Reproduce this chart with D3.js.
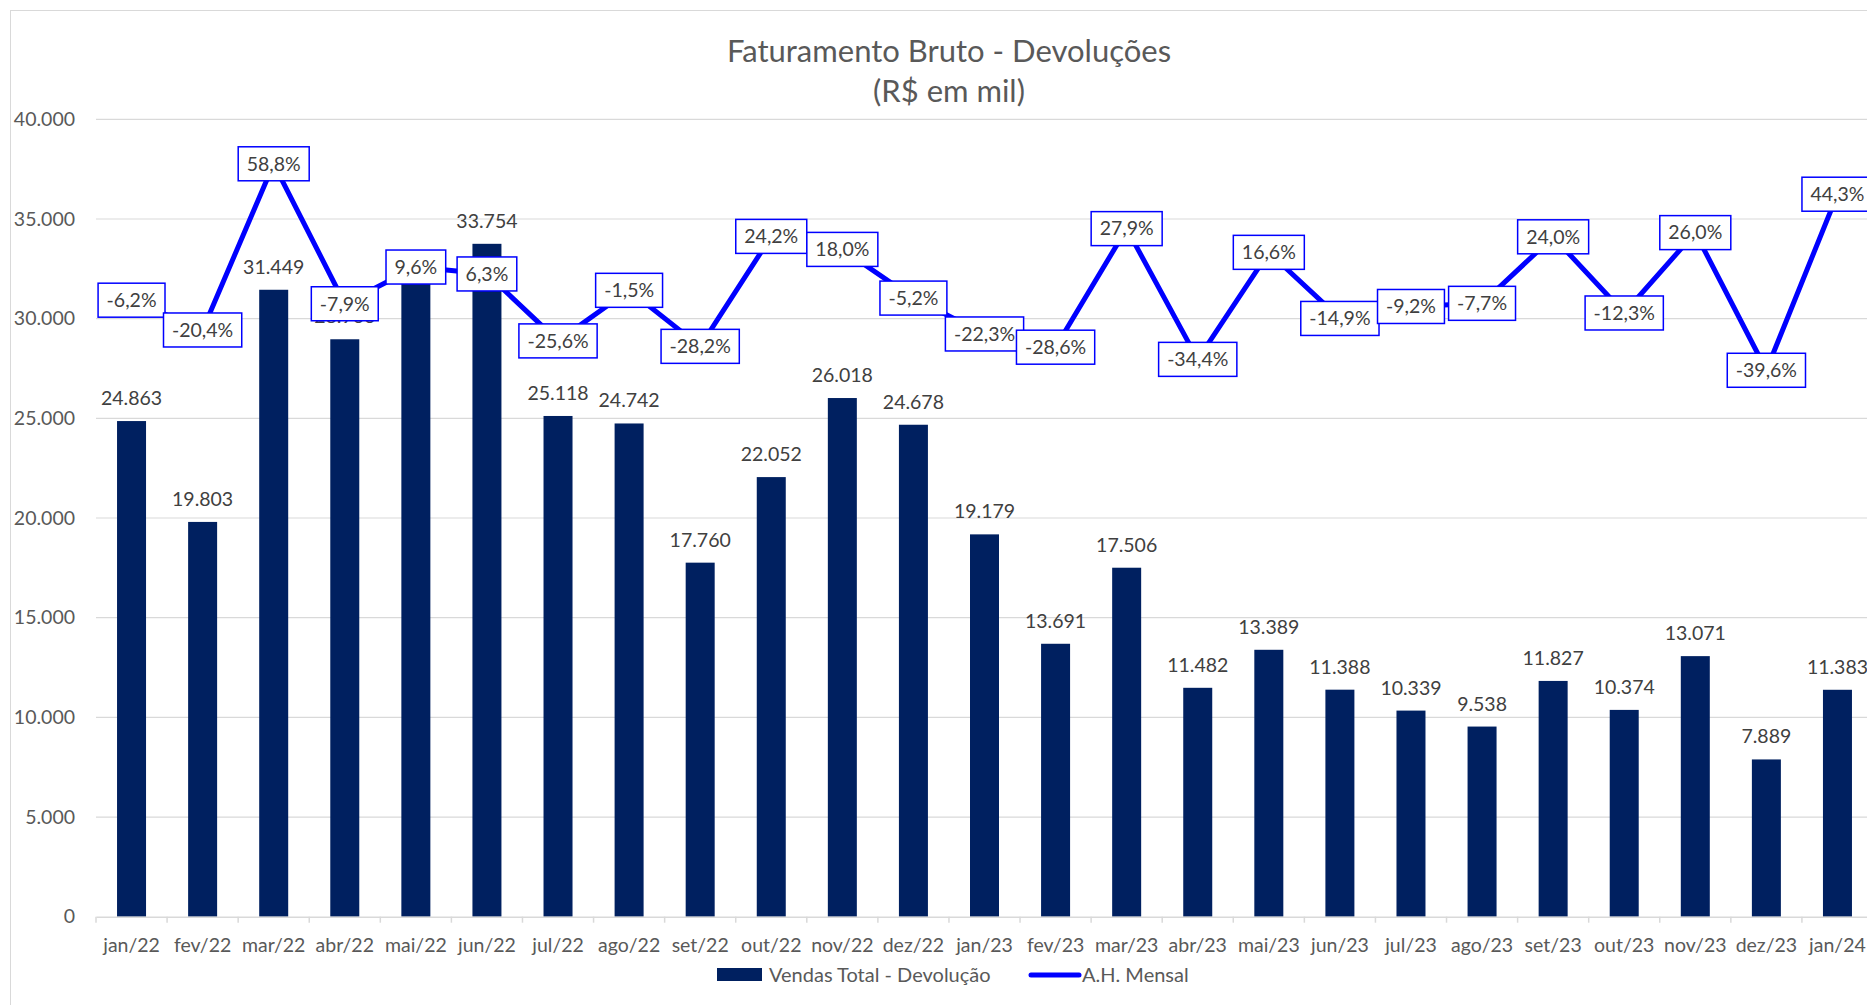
<!DOCTYPE html>
<html>
<head>
<meta charset="utf-8">
<script src="https://cdn.jsdelivr.net/npm/d3@7"></script>
<style>
  body { margin: 0; background: #fff; }
  text { font-family: Lato, "Open Sans", sans-serif; }
</style>
</head>
<body>
<script>
// categories and series
const meses = ["jan/22", "fev/22", "mar/22", "abr/22", "mai/22", "jun/22", "jul/22", "ago/22",
  "set/22", "out/22", "nov/22", "dez/22", "jan/23", "fev/23", "mar/23", "abr/23", "mai/23",
  "jun/23", "jul/23", "ago/23", "set/23", "out/23", "nov/23", "dez/23", "jan/24"];

const vendas = [24863, 19803, 31449, 28966, 31752, 33754, 25118, 24742, 17760, 22052, 26018, 24678,
  19179, 13691, 17506, 11482, 13389, 11388, 10339, 9538, 11827, 10374, 13071, 7889, 11383];

const ahMensal = [-0.062, -0.204, 0.588, -0.079, 0.096, 0.063, -0.256, -0.015, -0.282, 0.242, 0.180,
  -0.052, -0.223, -0.286, 0.279, -0.344, 0.166, -0.149, -0.092, -0.077, 0.240, -0.123, 0.260, -0.396, 0.443];

const yTicks = [0, 5000, 10000, 15000, 20000, 25000, 30000, 35000, 40000];

const w = 1867;
const h = 1005;
const margin = {top: 119.3, right: -6, bottom: 88.3, left: 96};

const ptBR = d3.formatLocale({decimal: ",", thousands: ".", grouping: [3], currency: ["R$", ""], minus: "-"});
const fmtNum = ptBR.format(",.0f");
const fmtPct = ptBR.format(".1%");

let svg = d3.select("body")
  .append("svg")
  .attr("width", w)
  .attr("height", h);

// chart border
svg.append("rect")
  .attr("x", 10.5).attr("y", 10.5)
  .attr("width", w + 20).attr("height", h + 20)
  .attr("fill", "#fff")
  .attr("stroke", "#d9d9d9");

let x = d3.scaleBand()
  .domain(meses)
  .range([margin.left, w - margin.right]);

let y = d3.scaleLinear()
  .domain([0, 40000])
  .range([h - margin.bottom, margin.top]);

// secondary axis (hidden) for the % line
let y2 = d3.scaleLinear()
  .domain([-3, 0.8])
  .range([h - margin.bottom, margin.top]);

const barW = 29;

// gridlines
svg.append("g")
  .selectAll("line")
  .data(yTicks.filter(d => d > 0))
  .join("line")
  .attr("x1", margin.left).attr("x2", w)
  .attr("y1", d => y(d)).attr("y2", d => y(d))
  .attr("stroke", "#d9d9d9")
  .attr("stroke-width", 1.2);

// y axis labels
let yAxis = g => g
  .attr("transform", `translate(${margin.left},0)`)
  .call(d3.axisLeft(y).tickValues(yTicks).tickFormat(fmtNum).tickSize(0).tickPadding(21))
  .call(g => g.select(".domain").remove())
  .call(g => g.selectAll("text")
    .attr("fill", "#595959")
    .style("font-size", "19.5px")
    .style("font-family", "Lato, sans-serif"));
svg.append("g").call(yAxis);

// bars
svg.append("g")
  .selectAll("rect")
  .data(vendas)
  .join("rect")
  .attr("x", (d, i) => x(meses[i]) + x.bandwidth() / 2 - barW / 2)
  .attr("y", d => y(d))
  .attr("width", barW)
  .attr("height", d => y(0) - y(d))
  .attr("fill", "#002060");

// x axis
let xAxis = g => g
  .attr("transform", `translate(0,${y(0)})`)
  .call(d3.axisBottom(x).tickSize(0).tickPadding(21))
  .call(g => g.select(".domain").attr("stroke", "#d9d9d9").attr("stroke-width", 1.5))
  .call(g => g.selectAll("text")
    .attr("fill", "#595959")
    .style("font-size", "19.5px")
    .style("font-family", "Lato, sans-serif"));
svg.append("g").call(xAxis);

// band boundary ticks
svg.append("g")
  .selectAll("line")
  .data(meses)
  .join("line")
  .attr("x1", d => x(d)).attr("x2", d => x(d))
  .attr("y1", y(0)).attr("y2", y(0) + 6)
  .attr("stroke", "#d9d9d9")
  .attr("stroke-width", 1.5);

// bar value labels (abr/22 and mai/22 sit under the % boxes, as in the original)
svg.append("g")
  .selectAll("text")
  .data(vendas)
  .join("text")
  .attr("x", (d, i) => x(meses[i]) + x.bandwidth() / 2)
  .attr("y", d => y(d) - 16)
  .attr("text-anchor", "middle")
  .attr("fill", "#404040")
  .style("font-size", "19.5px")
  .text(d => fmtNum(d));

// % line
let line = d3.line()
  .x((d, i) => x(meses[i]) + x.bandwidth() / 2)
  .y(d => y2(d));

svg.append("path")
  .datum(ahMensal)
  .attr("fill", "none")
  .attr("stroke", "#0000ff")
  .attr("stroke-width", 5)
  .attr("stroke-linejoin", "round")
  .attr("d", line);

// % labels in boxes
let lbl = svg.append("g")
  .selectAll("g")
  .data(ahMensal)
  .join("g")
  .attr("transform", (d, i) => `translate(${x(meses[i]) + x.bandwidth() / 2},${y2(d)})`);

lbl.append("rect")
  .attr("fill", "#fff")
  .attr("stroke", "#0000ff")
  .attr("stroke-width", 1.5);

lbl.append("text")
  .attr("text-anchor", "middle")
  .attr("dy", "0.35em")
  .attr("fill", "#404040")
  .style("font-size", "19.5px")
  .text(d => fmtPct(d));

lbl.each(function() {
  const g = d3.select(this);
  const tw = g.select("text").node().getComputedTextLength();
  g.select("rect")
    .attr("x", -tw / 2 - 8.5)
    .attr("y", -17)
    .attr("width", tw + 17)
    .attr("height", 34);
});

// title
svg.append("text")
  .attr("x", 949).attr("y", 62)
  .attr("text-anchor", "middle")
  .attr("fill", "#595959")
  .style("font-size", "31px")
  .text("Faturamento Bruto - Devoluções");

svg.append("text")
  .attr("x", 949).attr("y", 102)
  .attr("text-anchor", "middle")
  .attr("fill", "#595959")
  .style("font-size", "31px")
  .text("(R$ em mil)");

// legend
let legend = svg.append("g");
legend.append("rect")
  .attr("x", 717).attr("y", 968)
  .attr("width", 45).attr("height", 13)
  .attr("fill", "#002060");
legend.append("text")
  .attr("x", 769).attr("y", 982)
  .attr("fill", "#595959")
  .style("font-size", "20px")
  .text("Vendas Total - Devolução");
legend.append("line")
  .attr("x1", 1031).attr("x2", 1079)
  .attr("y1", 975).attr("y2", 975)
  .attr("stroke", "#0000ff")
  .attr("stroke-width", 5)
  .attr("stroke-linecap", "round");
legend.append("text")
  .attr("x", 1082).attr("y", 982)
  .attr("fill", "#595959")
  .style("font-size", "20px")
  .text("A.H. Mensal");
</script>
</body>
</html>
